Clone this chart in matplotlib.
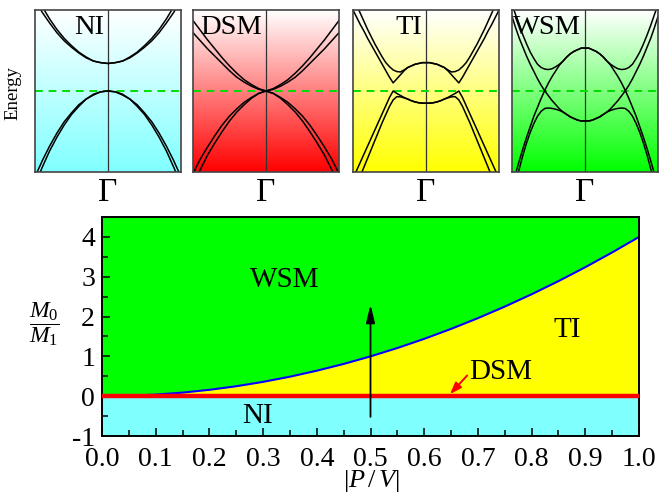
import matplotlib.pyplot as plt
import numpy as np

plt.rcParams["font.family"] = ["Liberation Serif", "DejaVu Serif"]
plt.rcParams["mathtext.fontset"] = "custom"
plt.rcParams["mathtext.rm"] = "Liberation Serif"
plt.rcParams["mathtext.it"] = "Liberation Serif:italic"
plt.rcParams["axes.unicode_minus"] = False

# ---- phase diagram data ----
pv_ratio = [0.00, 0.05, 0.10, 0.15, 0.20, 0.25, 0.30, 0.35, 0.40, 0.45, 0.50,
            0.55, 0.60, 0.65, 0.70, 0.75, 0.80, 0.85, 0.90, 0.95, 1.00]
m_boundary = [0.00, 0.01, 0.04, 0.09, 0.16, 0.25, 0.36, 0.49, 0.64, 0.81, 1.00,
              1.21, 1.44, 1.69, 1.96, 2.25, 2.56, 2.89, 3.24, 3.61, 4.00]
dsm_level = 0.0
m_min, m_max = -1.0, 4.5
arrow_x = 0.5
arrow_from, arrow_to = -0.52, 2.3
dsm_tip = (0.648, 0.05)
dsm_tail = (0.680, 0.52)

# ---- band structures (half of k range, mirrored about Gamma) ----
k_half = [0.0, 0.1, 0.2, 0.3, 0.4, 0.5, 0.6, 0.7, 0.8, 0.9, 1.0]
ni_cb1 = [0.34, 0.35, 0.37, 0.41, 0.47, 0.54, 0.62, 0.72, 0.84, 0.97, 1.12]
ni_cb2 = [0.34, 0.35, 0.37, 0.42, 0.48, 0.56, 0.65, 0.76, 0.89, 1.04, 1.20]
ni_vb1 = [0.00, -0.01, -0.04, -0.10, -0.17, -0.27, -0.38, -0.52, -0.68, -0.86, -1.06]
ni_vb2 = [0.00, -0.01, -0.05, -0.10, -0.19, -0.29, -0.42, -0.57, -0.74, -0.94, -1.16]

dsm_cb1 = [0.00, 0.03, 0.08, 0.14, 0.22, 0.31, 0.41, 0.52, 0.63, 0.75, 0.87]
dsm_cb2 = [0.00, 0.02, 0.06, 0.11, 0.17, 0.25, 0.34, 0.43, 0.52, 0.62, 0.72]
dsm_vb1 = [0.00, -0.03, -0.08, -0.14, -0.22, -0.31, -0.42, -0.55, -0.69, -0.84, -1.02]
dsm_vb2 = [0.00, -0.03, -0.09, -0.17, -0.26, -0.37, -0.50, -0.64, -0.79, -0.97, -1.16]

k_half_fine = [0.00, 0.05, 0.10, 0.15, 0.20, 0.25, 0.30, 0.35, 0.40, 0.45, 0.50,
               0.55, 0.60, 0.65, 0.70, 0.75, 0.80, 0.85, 0.90, 0.95, 1.00]
ti_cb1 = [0.35, 0.35, 0.34, 0.33, 0.31, 0.29, 0.26, 0.235, 0.24, 0.26, 0.30,
          0.35, 0.42, 0.50, 0.58, 0.67, 0.76, 0.86, 0.96, 1.06, 1.16]
ti_cb2 = [0.35, 0.35, 0.34, 0.33, 0.31, 0.29, 0.25, 0.20, 0.15, 0.10, 0.17,
          0.25, 0.33, 0.41, 0.49, 0.57, 0.65, 0.74, 0.82, 0.91, 1.00]
ti_vb1 = [-0.15, -0.15, -0.145, -0.135, -0.12, -0.10, -0.08, -0.055, -0.03, 0.00, -0.08,
          -0.18, -0.28, -0.38, -0.48, -0.58, -0.68, -0.78, -0.88, -0.98, -1.08]
ti_vb2 = [-0.15, -0.15, -0.145, -0.135, -0.12, -0.10, -0.085, -0.072, -0.07, -0.11, -0.19,
          -0.29, -0.39, -0.50, -0.61, -0.72, -0.83, -0.94, -1.05, -1.16, -1.27]

wsm_cb1 = [0.53, 0.53, 0.51, 0.49, 0.46, 0.42, 0.37, 0.33, 0.30, 0.275, 0.265,
           0.27, 0.29, 0.33, 0.40, 0.48, 0.58, 0.69, 0.81, 0.94, 1.07]
wsm_cb2 = [0.53, 0.53, 0.51, 0.49, 0.46, 0.42, 0.37, 0.32, 0.25, 0.18, 0.10,
           0.01, -0.09, -0.20, -0.31, -0.44, -0.57, -0.71, -0.86, -1.02, -1.19]
wsm_vb1 = [-0.37, -0.37, -0.36, -0.34, -0.32, -0.29, -0.26, -0.22, -0.17, -0.12, -0.06,
           0.00, 0.07, 0.15, 0.24, 0.33, 0.43, 0.54, 0.65, 0.78, 0.92]
wsm_vb2 = [-0.37, -0.37, -0.36, -0.34, -0.32, -0.29, -0.26, -0.24, -0.225, -0.215, -0.21,
           -0.215, -0.25, -0.31, -0.40, -0.51, -0.64, -0.79, -0.96, -1.14, -1.33]

panel_names = ["NI", "DSM", "TI", "WSM"]
panel_colors = ["#80ffff", "#ff0000", "#ffff00", "#00ff00"]
panel_k = [k_half, k_half, k_half_fine, k_half_fine]
panel_bands = [
    [ni_cb1, ni_cb2, ni_vb1, ni_vb2],
    [dsm_cb1, dsm_cb2, dsm_vb1, dsm_vb2],
    [ti_cb1, ti_cb2, ti_vb1, ti_vb2],
    [wsm_cb1, wsm_cb2, wsm_vb1, wsm_vb2],
]


def mirror(values):
    values = np.asarray(values, dtype=float)
    return np.r_[values[:0:-1], values]


W, H = 660, 494
fig = plt.figure(figsize=(W / 100, H / 100), dpi=100)

panel_lefts = [35, 193, 353, 512]
panel_w, panel_top, panel_bottom = 146, 10, 172
for left, name, color, kh, bands in zip(panel_lefts, panel_names, panel_colors,
                                        panel_k, panel_bands):
    ax = fig.add_axes([left / W, 1 - panel_bottom / H, panel_w / W,
                       (panel_bottom - panel_top) / H])
    # white at the top fading to the phase colour at the bottom
    t = np.linspace(0, 1, 256)[:, None, None]
    rgb = np.array(plt.matplotlib.colors.to_rgb(color))[None, None, :]
    img = (1 - t) * np.ones(3)[None, None, :] + t * rgb
    ax.imshow(img, extent=[-1, 1, -1, 1], origin="upper", aspect="auto", zorder=0)
    ax.axvline(0, color="#333333", lw=0.9, zorder=1)
    ax.axhline(0, color="#00dd00", lw=1.4, ls=(0, (4, 3)), zorder=1)
    kh = np.asarray(kh)
    k = np.r_[-kh[:0:-1], kh]
    for band in bands:
        ax.plot(k, mirror(band), color="black", lw=1.1, zorder=2)
    ax.text(-0.05, 0.79, name, ha="right", va="center", fontsize=20.5, zorder=3)
    ax.set_xlim(-1, 1)
    ax.set_ylim(-1, 1)
    ax.set_xticks([])
    ax.set_yticks([])
    for sp in ax.spines.values():
        sp.set_color("#444444")
        sp.set_linewidth(1.2)
    fig.text((left + panel_w / 2) / W, 1 - 193 / H, "\u0393", ha="center",
             va="center", fontsize=24)

fig.text(13 / W, 1 - 93 / H, "Energy", rotation=90, ha="center", va="center",
         fontsize=13.5)

# ---- phase diagram ----
ax = fig.add_axes([102 / W, 1 - 436 / H, 537 / W, 219 / H])
x = np.asarray(pv_ratio)
yb = np.asarray(m_boundary)
ax.fill_between(x, m_min, dsm_level, color="#80ffff", lw=0, zorder=0)
ax.fill_between(x, dsm_level, yb, color="#ffff00", lw=0, zorder=0)
ax.fill_between(x, yb, m_max, color="#00ff00", lw=0, zorder=0)
ax.plot(x, yb, color="#0000ff", lw=1.5, zorder=2)
ax.plot([x[0], x[-1]], [dsm_level, dsm_level], color="#ff0000", lw=3.2, zorder=3)

ax.annotate("", xy=(arrow_x, arrow_to), xytext=(arrow_x, arrow_from),
            arrowprops=dict(arrowstyle="-|>,head_width=0.22,head_length=0.9",
                            color="black", lw=1.3, mutation_scale=12,
                            shrinkA=0, shrinkB=0), zorder=4)
ax.annotate("", xy=dsm_tip, xytext=dsm_tail,
            arrowprops=dict(arrowstyle="-|>,head_width=0.25,head_length=0.7",
                            color="#ff0000", lw=1.4, mutation_scale=10,
                            shrinkA=0, shrinkB=0), zorder=4)

ax.text(0.34, 2.91, "WSM", ha="center", va="center", fontsize=21)
ax.text(0.866, 1.66, "TI", ha="center", va="center", fontsize=21)
ax.text(0.742, 0.60, "DSM", ha="center", va="center", fontsize=21)
ax.text(0.29, -0.50, "NI", ha="center", va="center", fontsize=21)

ax.set_xlim(0, 1)
ax.set_ylim(m_min, m_max)
xt = np.round(np.arange(0, 1.01, 0.1), 1)
ax.set_xticks(xt)
ax.set_xticklabels([f"{v:.1f}" for v in xt])
ax.set_yticks([-1, 0, 1, 2, 3, 4])
ax.set_xticks(np.arange(0.05, 1.0, 0.1), minor=True)
ax.set_yticks(np.arange(-0.5, 4.5, 1.0), minor=True)
ax.tick_params(which="both", direction="in", top=False, right=False,
               labelsize=20, width=1.1)
ax.tick_params(which="major", length=6)
ax.tick_params(axis="x", which="major", pad=8)
ax.tick_params(axis="y", which="major", pad=5)
ax.tick_params(which="minor", length=4)
for sp in ax.spines.values():
    sp.set_linewidth(1.4)

fig.text(371 / W, 1 - 481 / H, r"$|P\,/\,V|$", ha="center", va="center",
         fontsize=19)
fig.text(44 / W, 1 - 324 / H, r"$\dfrac{M_0}{M_1}$", ha="center", va="center",
         fontsize=17)

fig.savefig("out.png", dpi=100)
